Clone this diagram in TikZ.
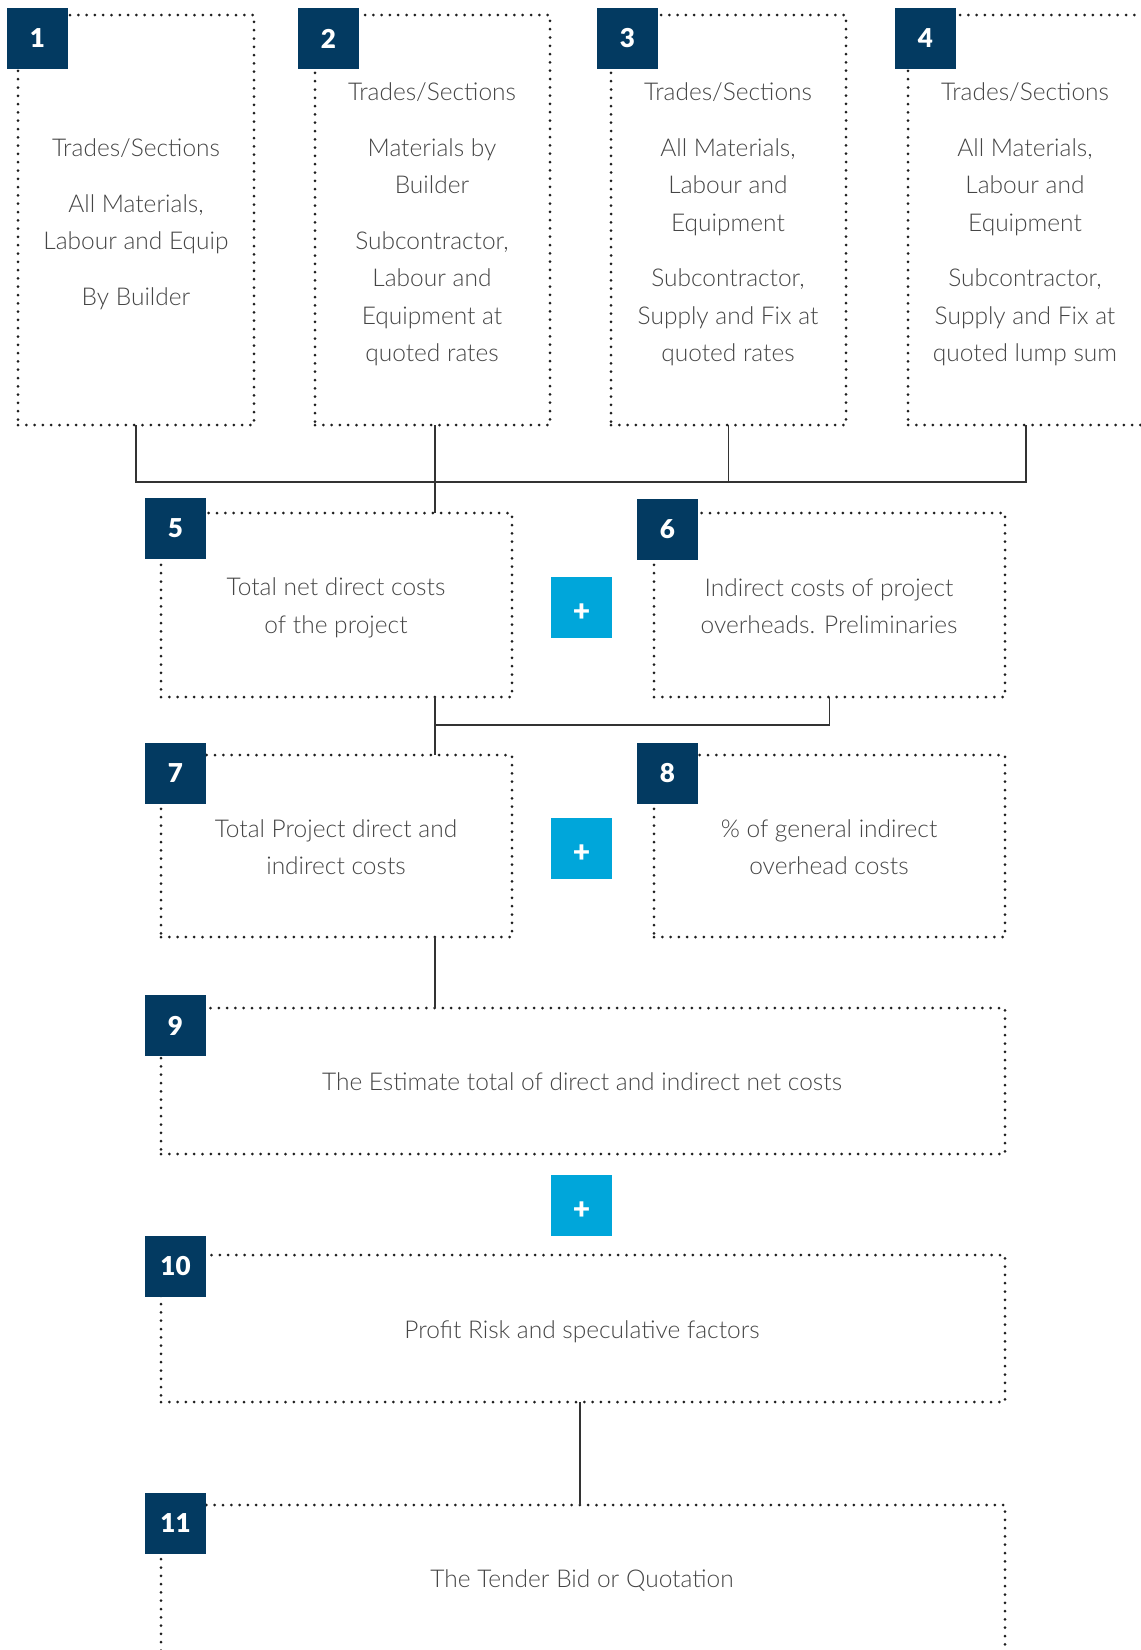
\documentclass[tikz,border=0pt]{standalone}
\usepackage{fontspec}
\setmainfont{Lato Light}
\newfontfamily\numfont{Lato Black}
\definecolor{navy}{HTML}{033A61}
\definecolor{cyanbox}{HTML}{00A6DA}
\definecolor{txt}{HTML}{454545}
\definecolor{dotc}{HTML}{1E1E1E}
\definecolor{linec}{HTML}{333333}
\begin{document}
\begin{tikzpicture}[x=1pt,y=-1pt,
  dbox/.style={draw=dotc, line width=3pt, dash pattern=on 0pt off 8.3pt, line cap=round,
    inner sep=0pt, outer sep=0pt, anchor=north west, rectangle},
  badge/.style={fill=navy, text=white, minimum width=61pt, minimum height=61pt,
    inner sep=0pt, outer sep=0pt, anchor=north west, font=\numfont\fontsize{26}{26}\selectfont},
  plusbox/.style={fill=cyanbox, text=white, minimum width=61pt, minimum height=61pt,
    inner sep=0pt, outer sep=0pt, anchor=north west, font=\numfont\fontsize{30}{30}\selectfont},
  label/.style={text=txt, align=center, inner sep=0pt, font=\fontsize{24.5}{37.5}\selectfont},
  conn/.style={draw=linec, line width=1.4pt}
]
\useasboundingbox (0,0) rectangle (1141,1650);
\fill[white] (0,0) rectangle (1141,1650);

% dotted boxes
\node[dbox, minimum width=236pt, minimum height=410pt] (b1) at (18,15) {};
\node[dbox, minimum width=235pt, minimum height=410pt] (b2) at (315,15) {};
\node[dbox, minimum width=235pt, minimum height=410pt] (b3) at (611,15) {};
\node[dbox, minimum width=236pt, minimum height=410pt] (b4) at (908,15) {};
\node[dbox, minimum width=351pt, minimum height=184pt] (b5) at (161,513) {};
\node[dbox, minimum width=351pt, minimum height=184pt] (b6) at (654,513) {};
\node[dbox, minimum width=351pt, minimum height=182pt] (b7) at (161,755) {};
\node[dbox, minimum width=351pt, minimum height=182pt] (b8) at (654,755) {};
\node[dbox, minimum width=844pt, minimum height=146pt] (b9) at (161,1008) {};
\node[dbox, minimum width=844pt, minimum height=147pt] (b10) at (161,1255) {};
\node[dbox, minimum width=844pt, minimum height=200pt] (b11) at (161,1505) {};

% connectors
\coordinate (j1) at (435,482);
\coordinate (j2) at (435,725);
\coordinate (j3) at (580,1402);
\draw[conn] (b1.south) |- (j1) -| (b4.south);
\draw[conn] (b3.south) -- (b3.south |- j1);
\draw[conn] (j1 |- b2.south) -- (j1 |- b5.north);
\draw[conn] (j2 |- b5.south) -- (j2 |- b7.north);
\draw[conn] (j2) -| (b6.south);
\draw[conn] (j2 |- b7.south) -- (j2 |- b9.north);
\draw[conn] (j3 |- b10.south) -- (j3 |- b11.north);

% badges
\node[badge] (n1) at (7,8) {1};
\node[badge] (n2) at (298,8) {2};
\node[badge] (n3) at (597,8) {3};
\node[badge] (n4) at (895,8) {4};
\node[badge] (n5) at (145,498) {5};
\node[badge] (n6) at (637,499) {6};
\node[badge] (n7) at (145,743) {7};
\node[badge] (n8) at (637,743) {8};
\node[badge] (n9) at (145,995) {9};
\node[badge] (n10) at (145,1236) {10};
\node[badge] (n11) at (145,1493) {11};

% plus boxes
\node[plusbox] (p1) at (551,577) {\smash{\raisebox{-14pt}{+}}};
\node[plusbox] (p2) at (551,818) {\smash{\raisebox{-14pt}{+}}};
\node[plusbox] (p3) at (551,1175) {\smash{\raisebox{-14pt}{+}}};

% texts
\node[label] (t1) at (136,224) {Trades/Sections\\[18pt]All Materials,\\Labour and Equip\\[18pt]By Builder};
\node[label] (t2) at (432,224.5) {Trades/Sections\\[18pt]Materials by\\Builder\\[18pt]Subcontractor,\\Labour and\\Equipment at\\quoted rates};
\node[label] (t3) at (728,224.5) {Trades/Sections\\[18pt]All Materials,\\Labour and\\Equipment\\[18pt]Subcontractor,\\Supply and Fix at\\quoted rates};
\node[label] (t4) at (1025,224.5) {Trades/Sections\\[18pt]All Materials,\\Labour and\\Equipment\\[18pt]Subcontractor,\\Supply and Fix at\\quoted lump sum};
\node[label] (t5) at (336,608) {Total net direct costs\\of the project};
\node[label] (t6) at (829,606) {Indirect costs of project\\overheads. Preliminaries};
\node[label] (t7) at (336,847) {Total Project direct and\\indirect costs};
\node[label] (t8) at (829,847) {\% of general indirect\\overhead costs};
\node[label] (t9) at (582,1082) {The Estimate total of direct and indirect net costs};
\node[label] (t10) at (582,1332) {Profit Risk and speculative factors};
\node[label] (t11) at (582,1580) {The Tender Bid or Quotation};
\end{tikzpicture}
\end{document}
